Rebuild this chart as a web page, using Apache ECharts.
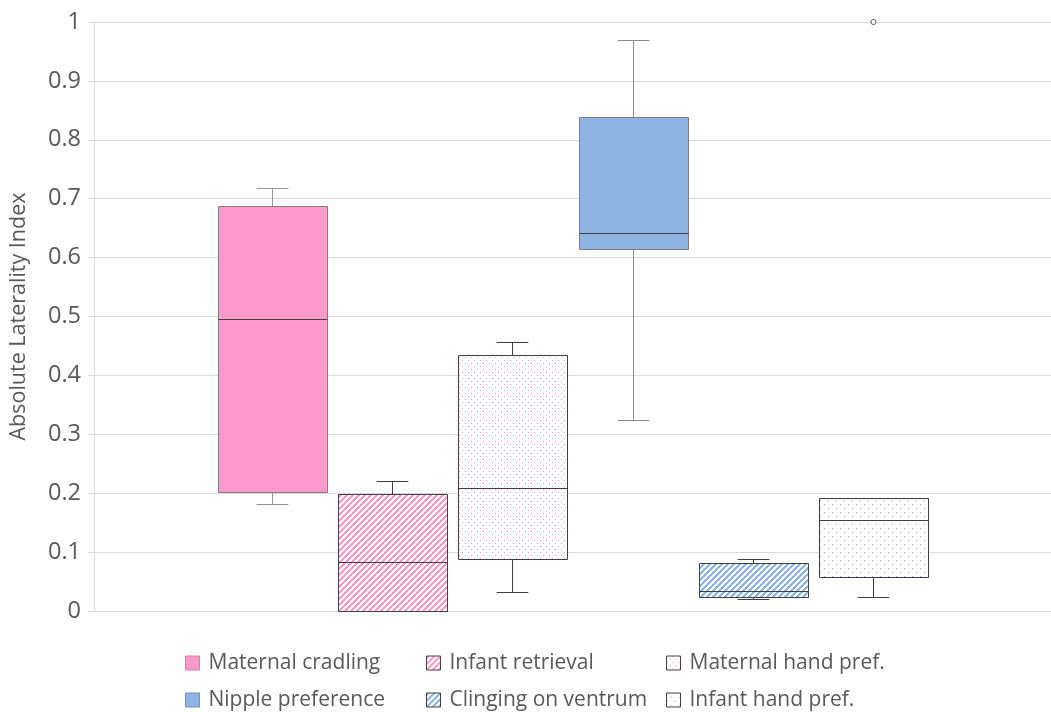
<!DOCTYPE html>
<html><head><meta charset="utf-8">
<script src="https://cdn.jsdelivr.net/npm/echarts@6/dist/echarts.min.js"></script>
<style>html,body{margin:0;padding:0;background:#fff}#c{width:1051px;height:712px}</style>
</head><body><div id="c"></div>
<script>
// ---- data ----
const categories = [''];
const seriesNames = ['Maternal cradling', 'Infant retrieval', 'Maternal hand pref.', 'Nipple preference', 'Clinging on ventrum', 'Infant hand pref.'];
const whiskerLow  = [0.182, 0.000, 0.032, 0.324, 0.020, 0.024];
const quartile1   = [0.202, 0.000, 0.088, 0.615, 0.024, 0.058];
const medians     = [0.496, 0.083, 0.209, 0.642, 0.034, 0.155];
const quartile3   = [0.688, 0.199, 0.435, 0.839, 0.082, 0.192];
const whiskerHigh = [0.718, 0.221, 0.457, 0.969, 0.088, 0.192];
const outliers    = [[], [], [], [], [], [1.0]];
const yTickMin = 0, yTickMax = 1, yTickStep = 0.1;

// ---- styles ----
const PINK = '#FF99CC', BLUE = '#8DB4E2';
function tile(w, h, color, test) {
  const c = document.createElement('canvas'); c.width = w; c.height = h;
  const ctx = c.getContext('2d');
  ctx.fillStyle = '#ffffff'; ctx.fillRect(0, 0, w, h);
  ctx.fillStyle = color;
  for (let x = 0; x < w; x++) for (let y = 0; y < h; y++) if (test(x, y)) ctx.fillRect(x, y, 1, 1);
  return { image: c, repeat: 'repeat' };
}
const stripe = col => tile(6, 6, col, (x, y) => ((x + y) % 6) < 3);
const dotsPink = tile(6, 6, PINK, (x, y) => (x === 0 && y === 0) || (x === 3 && y === 3));
const dotsBlue = tile(8, 8, BLUE, (x, y) => (x === 0 && y === 0) || (x === 4 && y === 4));
const fills = [PINK, stripe(PINK), dotsPink, BLUE, stripe(BLUE), dotsBlue];
const borders = ['#7f7f7f', '#404040', '#404040', '#7f7f7f', '#404040', '#404040'];
const whiskerCols = ['#959595', '#404040', '#404040', '#8a8a8a', '#404040', '#404040'];
const legendBorders = ['#e07aae', '#404040', '#404040', '#6f95c4', '#404040', '#404040'];

const chart = echarts.init(document.getElementById('c'), null, { renderer: 'canvas' });
const FONT = '"Open Sans", sans-serif';

function renderBox(params, api) {
  const i = params.seriesIndex;
  const bw = api.size([1, 0])[0];
  const pitch = bw * 0.1256, boxW = bw * 0.1140, capW = boxW * 0.29;
  const cx = Math.round(api.coord([0, 0])[0] + (i - 2.5) * pitch) + 0.5;
  const Y = v => Math.round(api.coord([0, v])[1]) + 0.5;
  const yLo = Y(api.value(1)), yQ1 = Y(api.value(2)), yMed = Y(api.value(3)), yQ3 = Y(api.value(4)), yHi = Y(api.value(5));
  const x0 = Math.round(cx - boxW / 2) + 0.5, x1 = Math.round(cx + boxW / 2) + 0.5;
  const wStyle = { stroke: whiskerCols[i], lineWidth: 1 };
  const children = [];
  if (yHi < yQ3) {
    children.push({ type: 'line', shape: { x1: cx, y1: yQ3, x2: cx, y2: yHi }, style: wStyle });
    children.push({ type: 'line', shape: { x1: cx - capW / 2, y1: yHi, x2: cx + capW / 2, y2: yHi }, style: wStyle });
  }
  if (yLo > yQ1) {
    children.push({ type: 'line', shape: { x1: cx, y1: yQ1, x2: cx, y2: yLo }, style: wStyle });
    children.push({ type: 'line', shape: { x1: cx - capW / 2, y1: yLo, x2: cx + capW / 2, y2: yLo }, style: wStyle });
  }
  children.push({ type: 'rect', shape: { x: x0, y: yQ3, width: x1 - x0, height: yQ1 - yQ3 },
    style: { fill: fills[i], stroke: borders[i], lineWidth: 1 } });
  children.push({ type: 'line', shape: { x1: x0, y1: yMed, x2: x1, y2: yMed }, style: { stroke: '#404040', lineWidth: 1 } });
  outliers[i].forEach(v => {
    const p = api.coord([0, v]);
    children.push({ type: 'circle', shape: { cx: cx, cy: p[1], r: 2.6 }, style: { fill: '#fff', stroke: '#595959', lineWidth: 1 } });
  });
  return { type: 'group', children };
}

const series = seriesNames.map((name, i) => ({
  type: 'custom', name,
  renderItem: renderBox,
  clip: false,
  itemStyle: { color: fills[i], borderColor: legendBorders[i], borderWidth: 1 },
  encode: { x: 0, y: [1, 2, 3, 4, 5] },
  data: categories.map((c, k) => [k, whiskerLow[i], quartile1[i], medians[i], quartile3[i], whiskerHigh[i]])
}));

function legendCol(idx, left) {
  return {
    orient: 'vertical', left, top: 652, itemWidth: 14, itemHeight: 14, itemGap: 15, padding: 0,
    icon: 'rect', selectedMode: false,
    textStyle: { fontFamily: FONT, fontSize: 21, color: '#595959', lineHeight: 22, padding: [0, 0, 0, 4] },
    data: idx.map(k => ({ name: seriesNames[k], itemStyle: { color: fills[k], borderColor: legendBorders[k], borderWidth: 1 } }))
  };
}

chart.setOption({
  animation: false,
  backgroundColor: '#fff',
  grid: { left: 94, right: 0, top: 22, bottom: 101, containLabel: false },
  legend: [legendCol([0, 3], 185), legendCol([1, 4], 426), legendCol([2, 5], 666)],
  xAxis: {
    type: 'category', data: categories, boundaryGap: true,
    axisLine: { show: true, lineStyle: { color: '#d9d9d9' } },
    axisTick: { show: false }, axisLabel: { show: false }
  },
  yAxis: {
    type: 'value', min: yTickMin, max: yTickMax, interval: yTickStep,
    name: 'Absolute Laterality Index', nameLocation: 'middle', nameRotate: 90, nameGap: 64,
    nameTextStyle: { fontFamily: FONT, fontSize: 21.5, color: '#595959' },
    axisLine: { show: true, lineStyle: { color: '#d9d9d9' } },
    axisTick: { show: true, length: 6, lineStyle: { color: '#d9d9d9' } },
    axisLabel: { margin: 13, fontFamily: FONT, fontSize: 23.5, color: '#595959' },
    splitLine: { show: true, lineStyle: { color: '#d9d9d9' } }
  },
  series
});
</script></body></html>
